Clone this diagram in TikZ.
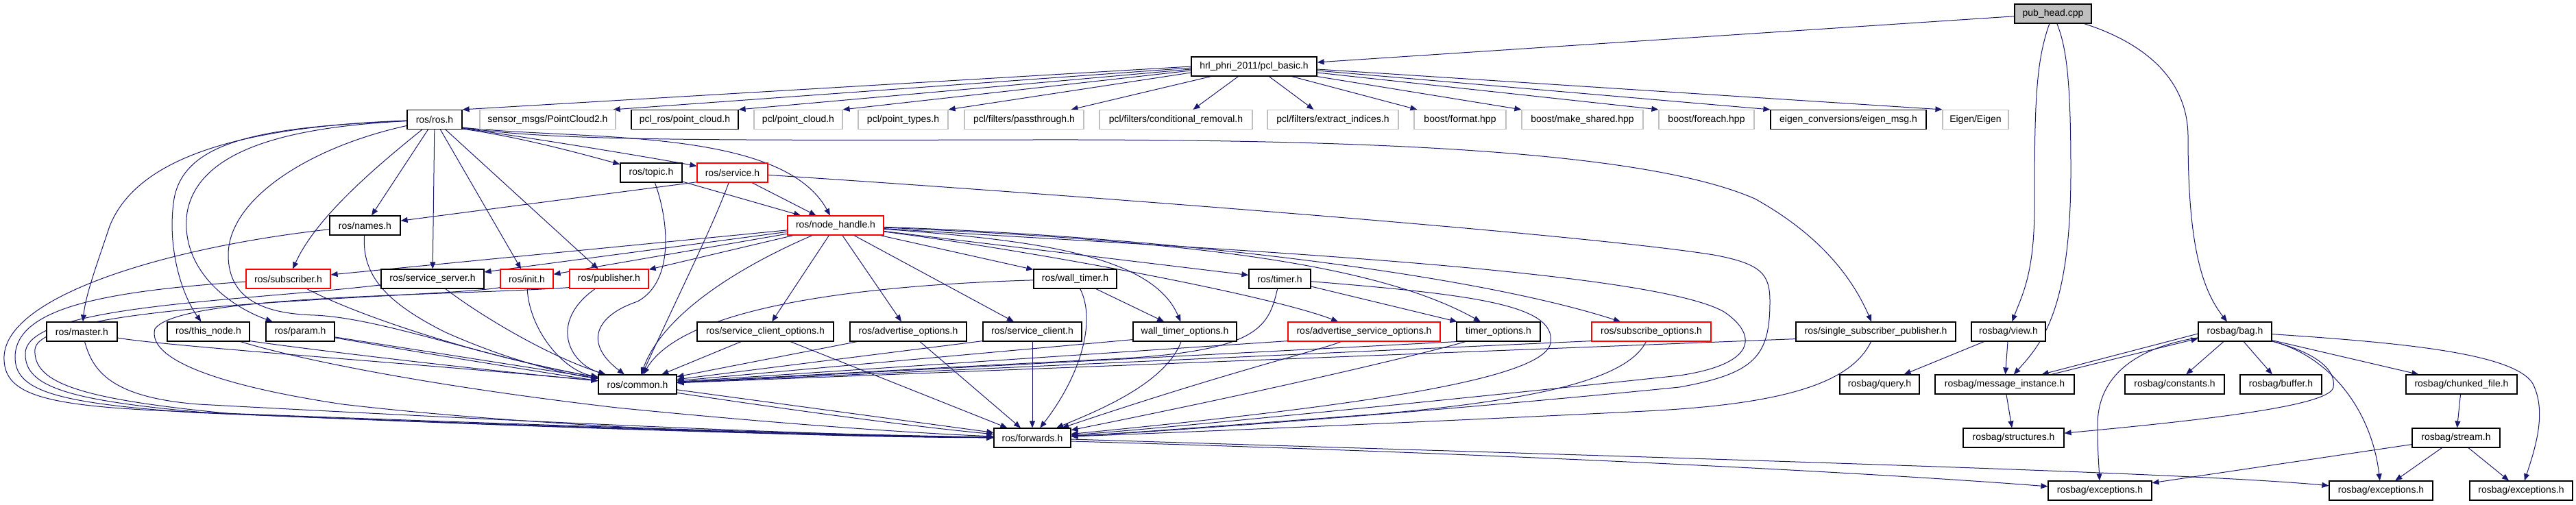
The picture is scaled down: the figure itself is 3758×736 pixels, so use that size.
\documentclass[tikz,border=0pt]{standalone}
\usepackage{fontspec}
\newfontfamily\gf{Liberation Sans}
\usetikzlibrary{arrows.meta,calc}
\definecolor{edgec}{HTML}{191970}
\definecolor{grayb}{HTML}{BFBFBF}
\definecolor{redb}{HTML}{FF0000}
\pgfdeclarelayer{bg}
\pgfsetlayers{bg,main}
\begin{document}
\begin{tikzpicture}[x=0.5pt,y=-0.5pt,
  box/.style={draw=black,line width=0.6pt,fill=white,minimum height=14pt,inner sep=0pt,font=\gf\fontsize{7pt}{8pt}\selectfont},
  gbox/.style={box,draw=grayb},
  rbox/.style={box,draw=redb},
  lnk/.style={draw=edgec,line width=0.5pt,-{Triangle[length=5pt,width=4pt]}}]
\useasboundingbox (0,0) rectangle (3758,736);
% row 0/1
\node[box,fill=grayb,minimum width=56pt] (ph) at (2995,20) {pub\_head.cpp};
\node[box,minimum width=91.5pt] (pb) at (1829.5,97) {hrl\_phri\_2011/pcl\_basic.h};
% row 2
\node[box,minimum width=40pt] (ros) at (634,174.5) {ros/ros.h};
\node[gbox,minimum width=99pt] (sensor) at (799,174.5) {sensor\_msgs/PointCloud2.h};
\node[box,minimum width=78pt] (pclros) at (999,174.5) {pcl\_ros/point\_cloud.h};
\node[gbox,minimum width=64.5pt] (pclpc) at (1164.5,174.5) {pcl/point\_cloud.h};
\node[gbox,minimum width=65.5pt] (ptypes) at (1317.5,174.5) {pcl/point\_types.h};
\node[gbox,minimum width=87pt] (pass) at (1494,174.5) {pcl/filters/passthrough.h};
\node[gbox,minimum width=111.5pt] (cond) at (1715.5,174.5) {pcl/filters/conditional\_removal.h};
\node[gbox,minimum width=95.5pt] (extract) at (1944.5,174.5) {pcl/filters/extract\_indices.h};
\node[gbox,minimum width=67pt] (format) at (2130,174.5) {boost/format.hpp};
\node[gbox,minimum width=88.5pt] (makesh) at (2308.5,174.5) {boost/make\_shared.hpp};
\node[gbox,minimum width=69.5pt] (foreach) at (2489.5,174.5) {boost/foreach.hpp};
\node[box,minimum width=113.5pt] (eigmsg) at (2696.5,174.5) {eigen\_conversions/eigen\_msg.h};
\node[gbox,minimum width=48pt] (eigen) at (2882,174.5) {Eigen/Eigen};
% row 3
\node[box,minimum width=45pt] (topic) at (950,252) {ros/topic.h};
\node[rbox,minimum width=51.5pt] (service) at (1068.5,252) {ros/service.h};
\node[box,minimum width=51.5pt] (names) at (532.5,329) {ros/names.h};
\node[rbox,minimum width=70pt] (nh) at (1219,329) {ros/node\_handle.h};
% row 4
\node[rbox,minimum width=61.5pt] (sub) at (420.5,407) {ros/subscriber.h};
\node[box,minimum width=75pt] (ss) at (631,407) {ros/service\_server.h};
\node[rbox,minimum width=38.5pt] (init) at (768.5,407) {ros/init.h};
\node[rbox,minimum width=57.5pt] (pub) at (888.5,407) {ros/publisher.h};
\node[box,minimum width=60.5pt] (wt) at (1568.5,407) {ros/wall\_timer.h};
\node[box,minimum width=45pt] (timer) at (1867,407) {ros/timer.h};
% row 5
\node[box,minimum width=51.5pt] (master) at (119.5,484) {ros/master.h};
\node[box,minimum width=60pt] (thisnode) at (304,484) {ros/this\_node.h};
\node[box,minimum width=50pt] (param) at (438,484) {ros/param.h};
\node[box,minimum width=99.5pt] (sco) at (1116.5,484) {ros/service\_client\_options.h};
\node[box,minimum width=85pt] (ao) at (1325,484) {ros/advertise\_options.h};
\node[box,minimum width=72pt] (sclient) at (1506,484) {ros/service\_client.h};
\node[box,minimum width=75.5pt] (wto) at (1728.5,484) {wall\_timer\_options.h};
\node[rbox,minimum width=111pt] (aso) at (1990,484) {ros/advertise\_service\_options.h};
\node[box,minimum width=61pt] (topt) at (2186,484) {timer\_options.h};
\node[rbox,minimum width=87pt] (subopt) at (2409,484) {ros/subscribe\_options.h};
\node[box,minimum width=116.5pt] (ssp) at (2736.5,484) {ros/single\_subscriber\_publisher.h};
\node[box,minimum width=54pt] (view) at (2930,484) {rosbag/view.h};
\node[box,minimum width=53.5pt] (bag) at (3260.5,484) {rosbag/bag.h};
% row 6
\node[box,minimum width=57pt] (common) at (930,561) {ros/common.h};
\node[box,minimum width=58pt] (query) at (2742,561) {rosbag/query.h};
\node[box,minimum width=101.5pt] (mi) at (2924.5,561) {rosbag/message\_instance.h};
\node[box,minimum width=72.5pt] (constants) at (3172.5,561) {rosbag/constants.h};
\node[box,minimum width=59.5pt] (buffer) at (3327.5,561) {rosbag/buffer.h};
\node[box,minimum width=81pt] (chunked) at (3591,561) {rosbag/chunked\_file.h};
% row 7
\node[box,minimum width=56pt] (forwards) at (1506,639) {ros/forwards.h};
\node[box,minimum width=73.5pt] (structures) at (2937.5,639) {rosbag/structures.h};
\node[box,minimum width=64pt] (stream) at (3583,639) {rosbag/stream.h};
% row 8
\node[box,minimum width=75.5pt] (exca) at (3063.5,716) {rosbag/exceptions.h};
\node[box,minimum width=75.5pt] (excb) at (3473.5,716) {rosbag/exceptions.h};
\node[box,minimum width=75pt] (excc) at (3678,716) {rosbag/exceptions.h};

\begin{pgfonlayer}{bg}
% pub_head.cpp
\draw[lnk] (ph) -- (pb);
\draw[lnk] (ph) .. controls (2970,90) and (2968,150) .. (2968,300) .. controls (2968,400) and (2950,430) .. (view);
\draw[lnk] (ph) .. controls (3015,70) and (3021,120) .. (3021,250) .. controls (3021,450) and (2980,500) .. (mi);
\draw[lnk] (ph) .. controls (3120,60) and (3192,110) .. (3192,200) .. controls (3192,350) and (3210,420) .. (bag);
% pcl_basic.h
\draw[lnk] (pb.west) -- (ros.north east);
\draw[lnk] ($(pb.west)+(0,2)$) -- ($(sensor.north east)+(-4,0)$);
\draw[lnk] ($(pb.west)+(0,4)$) -- (pclros.north east);
\draw[lnk] ($(pb.west)+(0,6)$) -- (pclpc.north east);
\draw[lnk] ($(pb.west)+(0,9)$) -- (ptypes.north east);
\draw[lnk] ($(pb.south west)+(29,0)$) -- ($(pass.north east)+(-19,0)$);
\draw[lnk] ($(pb.south west)+(69,0)$) -- ($(cond.north)+(25,0)$);
\draw[lnk] ($(pb.south west)+(114,0)$) -- ($(extract.north west)+(68,0)$);
\draw[lnk] ($(pb.south east)+(-37,0)$) -- ($(format.north west)+(5,0)$);
\draw[lnk] (pb.south east) -- (makesh.north west);
\draw[lnk] ($(pb.east)+(0,9)$) -- (foreach.north west);
\draw[lnk] ($(pb.east)+(0,6)$) -- (eigmsg.north west);
\draw[lnk] ($(pb.east)+(0,4)$) -- (eigen.north west);
% ros/ros.h
\draw[lnk] (ros) -- (names);
\draw[lnk] (ros) .. controls (540,250) and (460,320) .. (sub);
\draw[lnk] (ros) -- (ss);
\draw[lnk] (ros) .. controls (350,185) and (200,230) .. (160,330) .. controls (140,390) and (125,430) .. (master);
\draw[lnk] (ros) .. controls (400,185) and (270,200) .. (254,290) .. controls (243,360) and (265,430) .. (thisnode);
\draw[lnk] (ros) .. controls (430,185) and (290,215) .. (273,310) .. controls (262,390) and (330,445) .. (param);
\draw[lnk] (ros) .. controls (450,215) and (335,290) .. (333,370) .. controls (332,440) and (390,458) .. (460,460) .. controls (560,465) and (700,520) .. (common);
\draw[lnk] (ros) -- (init);
\draw[lnk] (ros) -- (pub);
\draw[lnk] ($(ros.south east)+(0,-1)$) .. controls (760,200) and (850,225) .. (topic);
\draw[lnk] ($(ros.south east)+(0,-2)$) .. controls (800,205) and (950,230) .. (service);
\draw[lnk] ($(ros.south east)+(0,-3)$) .. controls (850,205) and (1140,185) .. (nh);
\draw[lnk] ($(ros.south east)+(0,-3)$) .. controls (800,205) and (1000,205) .. (1500,204) .. controls (2000,203) and (2400,220) .. (2560,290) .. controls (2650,340) and (2700,400) .. (ssp);
% ros/names.h
\draw[lnk] (names) .. controls (528,400) and (560,440) .. (650,485) .. controls (740,525) and (820,545) .. (common);
\draw[lnk] (names) .. controls (250,360) and (10,430) .. (6,520) .. controls (4,575) and (60,592) .. (250,600) .. controls (700,618) and (1200,634) .. (forwards);
% ros/service.h
\draw[lnk] ($(service.south west)+(1,-1)$) -- (names);
\draw[lnk] (service) -- (nh);
\draw[lnk] (service) .. controls (1040,330) and (990,430) .. (common);
\draw[lnk] (service) .. controls (1500,280) and (2300,340) .. (2500,372) .. controls (2570,385) and (2582,400) .. (2582,440) .. controls (2582,520) and (2560,545) .. (2450,565) .. controls (2100,600) and (1700,630) .. (forwards);
% ros/topic.h
\draw[lnk] (topic) -- (nh);
\draw[lnk] (topic) .. controls (975,320) and (985,410) .. (930,440) .. controls (870,460) and (850,500) .. (common);
% ros/node_handle.h
\draw[lnk] (nh) -- (sub);
\draw[lnk] (nh) -- (ss);
\draw[lnk] (nh) -- (init);
\draw[lnk] (nh) -- (pub);
\draw[lnk] (nh) .. controls (1100,380) and (970,450) .. (common);
\draw[lnk] (nh) .. controls (1700,360) and (2400,390) .. (2515,455) .. controls (2560,485) and (2570,530) .. (2450,548) .. controls (2100,585) and (1700,625) .. (forwards);
\draw[lnk] (nh) -- (wt);
\draw[lnk] (nh) .. controls (1500,350) and (1680,370) .. (wto);
\draw[lnk] (nh) -- (timer);
\draw[lnk] (nh) .. controls (1700,350) and (2000,380) .. (topt);
\draw[lnk] (nh) .. controls (1500,365) and (1850,430) .. (aso);
\draw[lnk] (nh) .. controls (1700,345) and (2150,400) .. (subopt);
\draw[lnk] (nh) -- (sco);
\draw[lnk] (nh) -- (ao);
\draw[lnk] (nh) -- (sclient);
% ros/subscriber.h
\draw[lnk] (sub) .. controls (520,460) and (700,520) .. (common);
\draw[lnk] (sub) .. controls (150,425) and (24,450) .. (22,520) .. controls (21,570) and (80,588) .. (280,602) .. controls (720,620) and (1200,635) .. (forwards);
% ros/service_server.h
\draw[lnk] (ss) .. controls (700,460) and (800,520) .. (common);
\draw[lnk] (ss) .. controls (350,440) and (40,445) .. (37,515) .. controls (35,565) and (100,585) .. (310,603) .. controls (740,622) and (1200,636) .. (forwards);
% ros/init.h
\draw[lnk] (init) .. controls (772,480) and (820,540) .. (common);
\draw[lnk] ($(init.south west)+(0,-2)$) .. controls (640,435) and (55,440) .. (51,510) .. controls (48,560) and (120,583) .. (340,604) .. controls (760,623) and (1200,637) .. (forwards);
% ros/publisher.h
\draw[lnk] (pub) .. controls (800,470) and (830,530) .. (common);
\draw[lnk] ($(pub.south west)+(0,-2)$) .. controls (650,432) and (260,430) .. (226,480) .. controls (215,520) and (300,560) .. (500,590) .. controls (800,625) and (1200,638) .. (forwards);
% ros/master.h
\draw[lnk] (master) .. controls (240,505) and (600,530) .. (common);
\draw[lnk] (master) .. controls (135,540) and (160,580) .. (290,590) .. controls (700,612) and (1200,636) .. (forwards);
% ros/this_node.h
\draw[lnk] ($(thisnode.south east)+(0,-1)$) .. controls (450,510) and (700,540) .. (common);
\draw[lnk] (thisnode) .. controls (420,520) and (600,560) .. (900,595) .. controls (1150,620) and (1350,633) .. (forwards);
% ros/param.h
\draw[lnk] (param) -- (common);
\draw[lnk] (param) .. controls (700,530) and (1200,610) .. (forwards);
% options / clients
\draw[lnk] (sco) -- (common);
\draw[lnk] (sco) -- (forwards);
\draw[lnk] (ao) -- (common);
\draw[lnk] (ao) -- (forwards);
\draw[lnk] ($(sclient.south west)+(0,-1)$) -- (common);
\draw[lnk] (sclient) -- (forwards);
% ros/wall_timer.h
\draw[lnk] (wt) .. controls (1300,415) and (1000,440) .. (common);
\draw[lnk] (wt) .. controls (1600,470) and (1575,550) .. (forwards);
\draw[lnk] (wt) -- (wto);
% wall_timer_options.h
\draw[lnk] ($(wto.south west)+(0,-3)$) -- (common);
\draw[lnk] (wto) .. controls (1700,560) and (1600,600) .. (forwards);
% ros/timer.h
\draw[lnk] (timer) -- (topt);
\draw[lnk] (timer) .. controls (1850,480) and (1835,515) .. (1600,525) .. controls (1300,540) and (1100,552) .. (common);
\draw[lnk] (timer) .. controls (2150,430) and (2270,445) .. (2262,500) .. controls (2255,560) and (1900,600) .. (forwards);
% timer_options.h
\draw[lnk] (topt.south west) -- (common);
\draw[lnk] (topt) .. controls (2100,510) and (1900,560) .. (forwards);
% ros/advertise_service_options.h
\draw[lnk] ($(aso.south west)+(0,-1)$) -- (common);
\draw[lnk] (aso) .. controls (1930,510) and (1800,540) .. (forwards);
% ros/subscribe_options.h
\draw[lnk] ($(subopt.south west)+(0,-1)$) -- (common);
\draw[lnk] (subopt) .. controls (2380,540) and (2300,580) .. (2000,605) .. controls (1800,620) and (1650,632) .. (forwards);
% ros/single_subscriber_publisher.h
\draw[lnk] ($(ssp.south west)+(0,-4)$) -- (common);
\draw[lnk] (ssp) .. controls (2700,560) and (2600,590) .. (2400,600) .. controls (2100,615) and (1700,632) .. (forwards);
% common / forwards
\draw[lnk] (common) -- (forwards);
\draw[lnk] ($(forwards.east)+(0,5)$) .. controls (2300,665) and (2800,695) .. (exca);
\draw[lnk] ($(forwards.east)+(0,2)$) .. controls (2500,670) and (3200,690) .. (excb);
% rosbag
\draw[lnk] (view) -- (query);
\draw[lnk] (view) -- (mi);
\draw[lnk] (mi) -- (structures);
\draw[lnk] ($(bag.west)+(0,3)$) -- ($(mi.north east)+(-48,0)$);
\draw[lnk] ($(mi.north east)+(-34,0)$) -- ($(bag.west)+(0,10)$);
\draw[lnk] (bag) .. controls (3100,510) and (3060,560) .. (3060,620) .. controls (3060,660) and (3062,680) .. (exca);
\draw[lnk] (bag) -- (constants);
\draw[lnk] (bag) -- (buffer);
\draw[lnk] (bag) -- (chunked);
\draw[lnk] (bag) .. controls (3380,515) and (3408,540) .. (3404,565) .. controls (3400,590) and (3250,610) .. (structures);
\draw[lnk] (bag) .. controls (3400,520) and (3460,600) .. (excb);
\draw[lnk] (bag) .. controls (3500,500) and (3668,515) .. (3695,560) .. controls (3715,600) and (3700,650) .. (excc);
\draw[lnk] (chunked) -- (stream);
\draw[lnk] (stream) -- (exca);
\draw[lnk] (stream) -- (excb);
\draw[lnk] (stream) -- (excc);
\end{pgfonlayer}
\end{tikzpicture}
\end{document}
